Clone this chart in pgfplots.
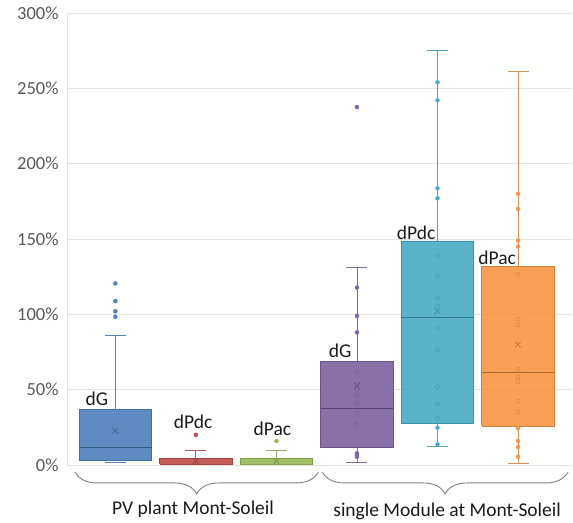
\documentclass[border=0pt]{standalone}
\usepackage{pgfplots}
\pgfplotsset{compat=1.18}
\usetikzlibrary{decorations.pathreplacing}
\usepackage{fontspec}
\setmainfont{Carlito}
\definecolor{cB}{HTML}{4F81BD}
\definecolor{cR}{HTML}{C0504D}
\definecolor{cG}{HTML}{9BBB59}
\definecolor{cP}{HTML}{8064A2}
\definecolor{cT}{HTML}{4BACC6}
\definecolor{cO}{HTML}{F79646}
\definecolor{tickgray}{HTML}{595959}
\definecolor{txt}{HTML}{1A1A1A}
\definecolor{gridc}{HTML}{E3E3E3}
\pgfplotsset{
  boxf/.style={draw=#1!85!black, fill=#1, fill opacity=0.92, line width=0.6pt},
  med/.style={draw=#1!70!black, line width=0.7pt},
  whisk/.style={draw=#1!75!gray, line width=0.9pt},
  pts/.style={only marks, mark=*, mark size=2bp, color=#1, mark options={draw=#1, fill=#1}},
  inpts/.style={only marks, mark=o, mark size=2bp, color=#1!65!black, mark options={draw opacity=0.45}},
  meanpt/.style={only marks, mark=x, mark size=4bp, color=#1!60!black, mark options={draw opacity=0.65, line width=0.6pt}},
}
\begin{document}
\begin{tikzpicture}
\useasboundingbox (-67bp,-58bp) rectangle (506bp,465bp);
\begin{axis}[
  at={(0,0)}, anchor=south west,
  scale only axis, width=505bp, height=452bp,
  xmin=0.4, xmax=6.67, ymin=0, ymax=300,
  axis x line*=bottom, axis y line*=left,
  axis line style={draw=gridc, line width=0.8pt, -},
  ytick={0,50,100,150,200,250,300},
  yticklabel={\pgfmathprintnumber{\tick}\%},
  xtick=\empty,
  major tick length=0pt,
  ymajorgrids, grid style={draw=gridc, line width=0.8pt},
  /pgf/number format/assume math mode=true,
  yticklabel style={font=\fontsize{18.5bp}{20bp}\selectfont, color=tickgray, xshift=-5bp},
  clip=false,
]
% ================= PV plant: dG (pos 1)
\addplot[whisk=cB] coordinates {(1,37) (1,86)};
\addplot[whisk=cB] coordinates {(0.87,86) (1.13,86)};
\addplot[whisk=cB] coordinates {(0.87,2) (1.13,2)};
\addplot[boxf=cB] coordinates {(0.55,3) (1.45,3) (1.45,37) (0.55,37) (0.55,3)};
\addplot[med=cB] coordinates {(0.55,11.5) (1.45,11.5)};
\addplot[pts=cB] coordinates {(1,120.5) (1,108.8) (1,102) (1,98.4)};
\addplot[meanpt=cB] coordinates {(1,22.6)};
% ================= PV plant: dPdc (pos 2)
\addplot[whisk=cR] coordinates {(2,4.4) (2,9.7)};
\addplot[whisk=cR] coordinates {(1.87,9.7) (2.13,9.7)};
\addplot[boxf=cR] coordinates {(1.55,0.5) (2.45,0.5) (2.45,4.4) (1.55,4.4) (1.55,0.5)};
\addplot[pts=cR] coordinates {(2,20)};
\addplot[meanpt=cR] coordinates {(2,2.5)};
% ================= PV plant: dPac (pos 3)
\addplot[whisk=cG] coordinates {(3,4.2) (3,9.7)};
\addplot[whisk=cG] coordinates {(2.87,9.7) (3.13,9.7)};
\addplot[boxf=cG] coordinates {(2.55,0.5) (3.45,0.5) (3.45,4.2) (2.55,4.2) (2.55,0.5)};
\addplot[pts=cG] coordinates {(3,16)};
\addplot[meanpt=cG] coordinates {(3,2.5)};
% ================= Module: dG (pos 4)
\addplot[whisk=cP] coordinates {(4,69) (4,131)};
\addplot[whisk=cP] coordinates {(3.87,131) (4.13,131)};
\addplot[whisk=cP] coordinates {(4,11.5) (4,2)};
\addplot[whisk=cP] coordinates {(3.87,2) (4.13,2)};
\addplot[boxf=cP] coordinates {(3.55,11.5) (4.45,11.5) (4.45,69) (3.55,69) (3.55,11.5)};
\addplot[med=cP] coordinates {(3.55,37.6) (4.45,37.6)};
\addplot[pts=cP] coordinates {(4,237.6) (4,117.7) (4,98.9) (4,88) (4,7.7) (4,6.6) (4,5.5)};
\addplot[inpts=cP] coordinates {(4,62) (4,53.7) (4,49.8) (4,46.4) (4,40.9) (4,34.3) (4,27)};
\addplot[meanpt=cP] coordinates {(4,52.6)};
% ================= Module: dPdc (pos 5)
\addplot[whisk=cT] coordinates {(5,148.8) (5,275)};
\addplot[whisk=cT] coordinates {(4.87,275) (5.13,275)};
\addplot[whisk=cT] coordinates {(5,27.6) (5,12.2)};
\addplot[whisk=cT] coordinates {(4.87,12.2) (5.13,12.2)};
\addplot[boxf=cT] coordinates {(4.55,27.6) (5.45,27.6) (5.45,148.8) (4.55,148.8) (4.55,27.6)};
\addplot[med=cT] coordinates {(4.55,98) (5.45,98)};
\addplot[pts=cT] coordinates {(5,254) (5,242) (5,183.6) (5,177) (5,24.8) (5,13.7)};
\addplot[inpts=cT] coordinates {(5,139) (5,125.6) (5,111) (5,105.5) (5,91) (5,76.3) (5,52) (5,40.5) (5,31)};
\addplot[meanpt=cT] coordinates {(5,102)};
% ================= Module: dPac (pos 6)
\addplot[whisk=cO] coordinates {(6,131.6) (6,261)};
\addplot[whisk=cO] coordinates {(5.87,261) (6.13,261)};
\addplot[whisk=cO] coordinates {(6,26) (6,0.7)};
\addplot[whisk=cO] coordinates {(5.87,0.7) (6.13,0.7)};
\addplot[boxf=cO] coordinates {(5.55,26) (6.45,26) (6.45,131.6) (5.55,131.6) (5.55,26)};
\addplot[med=cO] coordinates {(5.55,61.3) (6.45,61.3)};
\addplot[pts=cO] coordinates {(6,180) (6,170) (6,149) (6,145) (6,24.3) (6,16) (6,12) (6,5.5)};
\addplot[inpts=cO] coordinates {(6,126.5) (6,96.7) (6,93) (6,63.5) (6,58.6) (6,55.3) (6,42.5) (6,35.4)};
\addplot[meanpt=cO] coordinates {(6,80)};
% ---- labels
\node[font=\fontsize{19.5bp}{22bp}\selectfont, text=txt, inner sep=0pt] at (axis cs:0.77,43.8) {dG};
\node[font=\fontsize{19.5bp}{22bp}\selectfont, text=txt, inner sep=0pt] at (axis cs:1.965,28.5) {dPdc};
\node[font=\fontsize{19.5bp}{22bp}\selectfont, text=txt, inner sep=0pt] at (axis cs:2.95,23.9) {dPac};
\node[font=\fontsize{19.5bp}{22bp}\selectfont, text=txt, inner sep=0pt] at (axis cs:3.79,75.8) {dG};
\node[font=\fontsize{19.5bp}{22bp}\selectfont, text=txt, inner sep=0pt] at (axis cs:4.735,154) {dPdc};
\node[font=\fontsize{19.5bp}{22bp}\selectfont, text=txt, inner sep=0pt] at (axis cs:5.74,137.4) {dPac};
% ---- braces
\draw[gray, line width=0.9pt, decorate, decoration={brace, mirror, amplitude=22bp}] (axis cs:0.5,-4.6) -- (axis cs:3.52,-4.6);
\draw[gray, line width=0.9pt, decorate, decoration={brace, mirror, amplitude=22bp}] (axis cs:3.57,-4.6) -- (axis cs:6.62,-4.6);
\node[font=\fontsize{19.5bp}{22bp}\selectfont, text=txt, inner sep=0pt] at (axis cs:1.965,-29.5) {PV plant Mont-Soleil};
\node[font=\fontsize{19.5bp}{22bp}\selectfont, text=txt, inner sep=0pt] at (axis cs:5.12,-30.5) {single Module at Mont-Soleil};
\end{axis}
\end{tikzpicture}
\end{document}
